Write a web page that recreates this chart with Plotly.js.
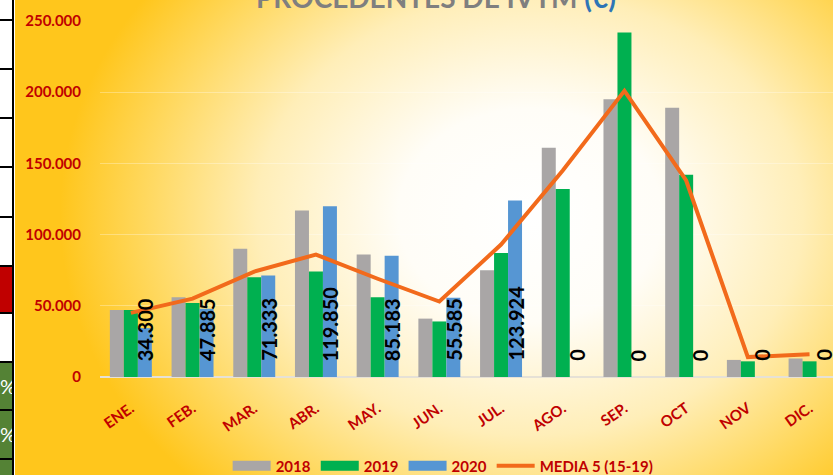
<!DOCTYPE html>
<html>
<head>
<meta charset="utf-8">
<script src="https://cdn.plot.ly/plotly-3.0.1.min.js"></script>
<style>
  html, body { margin:0; padding:0; width:833px; height:475px; overflow:hidden; }
  body { background: radial-gradient(ellipse 470px 380px at 530px 215px, #ffffff 0%, #fffdf7 28%, #ffeeb8 58%, #ffd85e 82%, #ffc61c 100%); position:relative; }
  #chart { position:absolute; left:0; top:0; width:833px; height:475px; }
  #strip { position:absolute; left:0; top:0; width:15px; height:475px; background:#fff; z-index:10; overflow:hidden; }
  .vline { position:absolute; left:12px; top:0; width:2px; height:475px; background:#000; }
  .hl { position:absolute; left:0; width:13px; height:2px; background:#000; }
  .blk { position:absolute; left:0; width:12px; }
  .pct { color:#fff; font-family:"Lato",sans-serif; font-size:20px; text-align:right; line-height:46px; overflow:hidden; white-space:nowrap; }
</style>
</head>
<body>
<div id="chart"></div>
<div id="strip">
  <div class="hl" style="top:19px"></div>
  <div class="hl" style="top:68px"></div>
  <div class="hl" style="top:117px"></div>
  <div class="hl" style="top:166px"></div>
  <div class="hl" style="top:216px"></div>
  <div class="hl" style="top:265px"></div>
  <div class="blk" style="top:267px;height:45px;background:#c00000"></div>
  <div class="hl" style="top:312px"></div>
  <div class="hl" style="top:361px"></div>
  <div class="blk pct" style="top:363px;height:46px;background:#548235;">%</div>
  <div class="hl" style="top:409px"></div>
  <div class="blk pct" style="top:411px;height:47px;background:#548235;">%</div>
  <div class="hl" style="top:458px"></div>
  <div class="blk" style="top:460px;height:15px;background:#548235"></div>
  <div class="vline"></div>
</div>
<script>
const months = ['ENE.','FEB.','MAR.','ABR.','MAY.','JUN.','JUL.','AGO.','SEP.','OCT','NOV','DIC.'];
const v2018 = [47000, 56000, 90000, 117000, 86000, 41000, 75000, 161000, 195000, 189000, 12000, 13000];
const v2019 = [47000, 52000, 70000, 74000, 56000, 39000, 87000, 132000, 242000, 142000, 11000, 11000];
const v2020 = [34300, 47885, 71333, 119850, 85183, 55585, 123924, 0, 0, 0, 0, 0];
const media = [45000, 55000, 74000, 86000, 69000, 53000, 93000, 145000, 201000, 138000, 14000, 16000];
const seriesNames = ['2018', '2019', '2020', 'MEDIA 5 (15-19)'];
const barColors = ['#A9A6A6', '#00B050', '#5696D3'];
const titleText = "PROCEDENTES DE IVTM <span style='color:#2E75B6'>(€)</span>";

const FONT = 'Lato, "Noto Sans", sans-serif';
const RED = '#C00000';

function fmt(n) { return String(n).replace(/\B(?=(\d{3})+(?!\d))/g, '.'); }

const barData = [v2018, v2019, v2020];
const traces = [];
barData.forEach((vals, k) => {
  traces.push({ type:'bar', name:seriesNames[k], x:months, y:vals, marker:{color:barColors[k]}, showlegend:false });
});
// legend keys drawn as wide blocks, like the reference
barData.forEach((vals, k) => {
  traces.push({ type:'scatter', mode:'lines', name:seriesNames[k], x:[null], y:[null],
                line:{color:barColors[k], width:11}, showlegend:true, legendrank:k+1 });
});
traces.push({ type:'scatter', mode:'lines', name:seriesNames[3], x:months, y:media,
              line:{color:'#F26A1B', width:4}, legendrank:4 });

const annotations = v2020.map((v, i) => ({
  x: months[i], y: 0, xref:'x', yref:'y',
  text: fmt(v), showarrow:false, textangle:-90,
  xanchor:'center', yanchor:'bottom', xshift:14, yshift:14,
  font:{family:FONT, size:20, color:'#000', weight:'bold'}
}));
annotations.push({
  xref:'paper', yref:'paper', x:0.458, y:1, xanchor:'center', yanchor:'bottom', yshift:5,
  text:titleText, showarrow:false,
  font:{family:FONT, size:28, color:'#7F7F7F', weight:'bold'}
});

const layout = {
  width:833, height:475,
  margin:{l:100, r:0, t:21, b:98},
  paper_bgcolor:'rgba(0,0,0,0)', plot_bgcolor:'rgba(0,0,0,0)',
  separators:',.',
  barmode:'group', bargap:0.32, bargroupgap:0,
  showlegend:true,
  legend:{orientation:'h', xref:'container', yref:'container', x:0.532, y:0.019, xanchor:'center', yanchor:'middle',
          font:{family:FONT, size:15, color:RED, weight:'bold'}, itemwidth:38, tracegroupgap:0, bgcolor:'rgba(0,0,0,0)'},
  xaxis:{type:'category', range:[-0.5, 11.38], showgrid:false, showline:false, zeroline:false,
         ticks:'outside', ticklen:16, tickcolor:'rgba(0,0,0,0)', tickangle:-35,
         tickfont:{family:FONT, size:15, color:RED, weight:'bold'}, fixedrange:true},
  yaxis:{range:[0, 250000], dtick:50000, tickformat:',d', showgrid:true, gridcolor:'rgba(255,255,255,0.3)', gridwidth:1,
         zeroline:true, zerolinecolor:'#E6E1D6', zerolinewidth:2, showline:false,
         ticks:'outside', ticklen:15, tickcolor:'rgba(0,0,0,0)',
         tickfont:{family:FONT, size:15, color:RED, weight:'bold'}, fixedrange:true},
  annotations: annotations
};

Plotly.newPlot('chart', traces, layout, {displayModeBar:false, staticPlot:true});
</script>
</body>
</html>
